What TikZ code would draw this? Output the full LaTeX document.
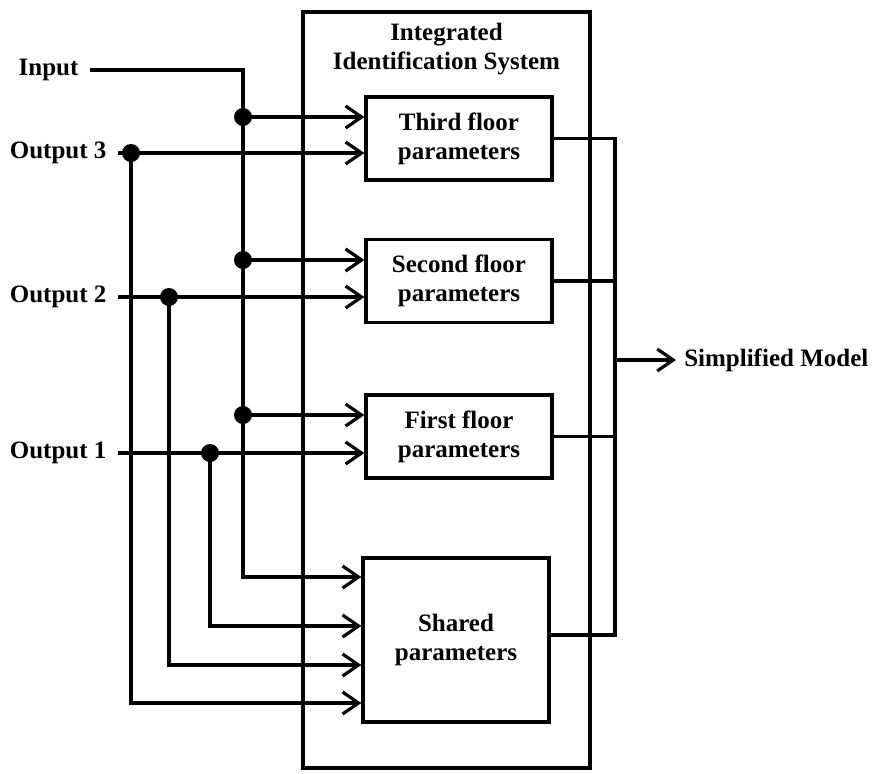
\documentclass[tikz,border=0pt]{standalone}
\usepackage{fontspec}
\setmainfont{Liberation Serif}
\usetikzlibrary{arrows.meta,positioning}

\begin{document}
\begin{tikzpicture}[
  x=0.5pt,y=-0.5pt,
  font=\fontsize{12.5}{14.5}\selectfont\bfseries,
  line width=1.6pt,
  sysbox/.style={draw,minimum width=143.5pt,minimum height=378pt,inner sep=0pt},
  pbox/.style={draw,fill=white,minimum width=93pt,minimum height=41.5pt,align=center,inner sep=0pt},
  sig/.style={inner xsep=5pt,anchor=east},
  arr/.style={-{Straight Barb[length=8pt,width=11pt]}}
]
\useasboundingbox (0,0) rectangle (879,773);
\node[sysbox] (system) at (446.5,390) {};
\node[align=center] (title) at (446.5,49) {Integrated\\Identification System};
\node[pbox] (third) at (459,138.5) {Third floor\\parameters};
\node[pbox] (second) at (459,281) {Second floor\\parameters};
\node[pbox] (first) at (459,436.5) {First floor\\parameters};
\node[pbox,minimum height=82pt] (shared) at (456,640) {Shared\\parameters};
\node[sig] (input) at (90,70) {Input};
\node[sig] (out3) at (118,153) {Output 3};
\node[sig] (out2) at (118,297) {Output 2};
\node[sig] (out1) at (118,453) {Output 1};
\node[anchor=west] (model) at (676,360) {Simplified Model};
% branch points
\coordinate (in3) at (243,117);
\coordinate (in2) at (243,260);
\coordinate (in1) at (243,415);
\coordinate (ins) at (243,577);
\coordinate (j3) at (131,153);
\coordinate (j2) at (169,297);
\coordinate (j1) at (210,453);
\coordinate (s3) at (131,703);
\coordinate (s2) at (169,665);
\coordinate (s1) at (210,626);
\coordinate (col) at (615,360);
% inputs
\draw[arr] (input.east) -| (ins) -- (ins -| shared.west);
\draw[arr] (in3) -- (in3 -| third.west);
\draw[arr] (in2) -- (in2 -| second.west);
\draw[arr] (in1) -- (in1 -| first.west);
\draw[arr] (out3.east) -- (out3.east -| third.west);
\draw[arr] (out2.east) -- (out2.east -| second.west);
\draw[arr] (out1.east) -- (out1.east -| first.west);
\draw[arr] (j3) -- (s3) -- (s3 -| shared.west);
\draw[arr] (j2) -- (s2) -- (s2 -| shared.west);
\draw[arr] (j1) -- (s1) -- (s1 -| shared.west);
% outputs
\draw (third.east) -| (col) |- ([yshift=2.5pt]shared.east);
\draw (second.east) -- (second.east -| col);
\draw (first.east) -- (first.east -| col);
\draw[arr] (col) -- (model.west);
% junction dots
\fill (in3) circle (4.5pt);
\fill (in2) circle (4.5pt);
\fill (in1) circle (4.5pt);
\fill (j3) circle (4.5pt);
\fill (j2) circle (4.5pt);
\fill (j1) circle (4.5pt);
\end{tikzpicture}
\end{document}
